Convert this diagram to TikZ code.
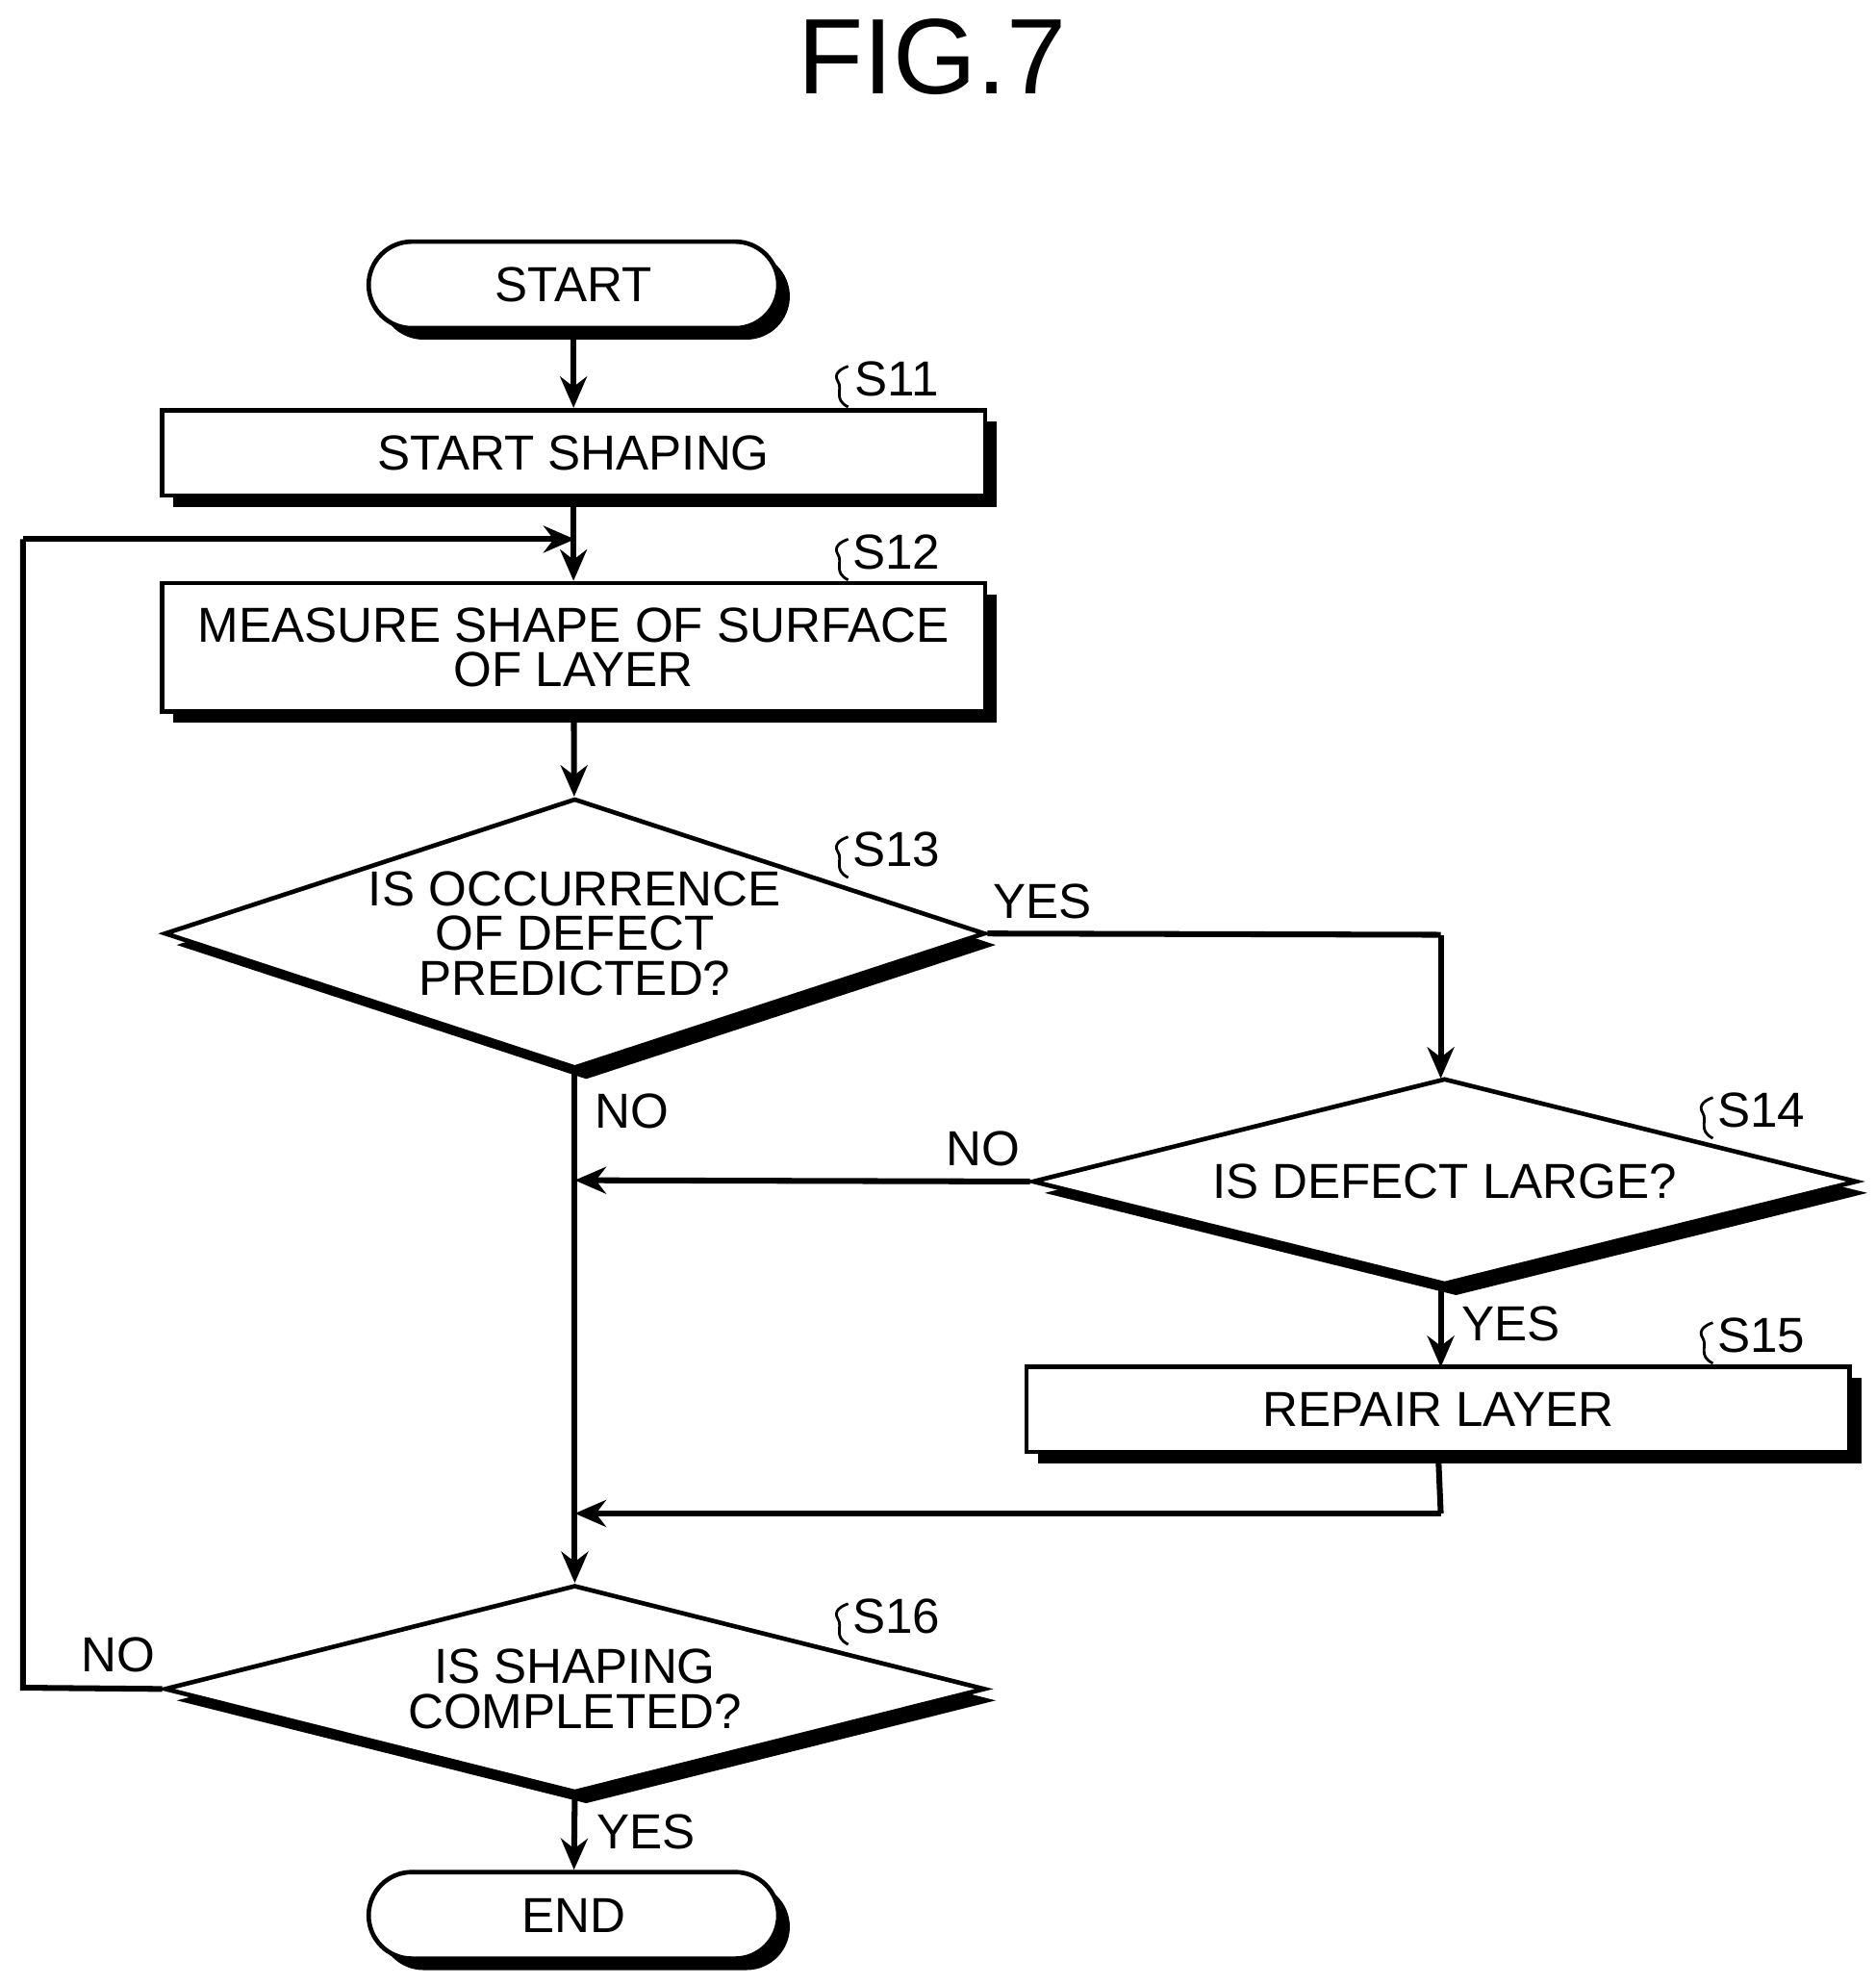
\documentclass[tikz,border=0pt]{standalone}
\usepackage{fontspec}
\setmainfont{Liberation Sans}
\usetikzlibrary{shapes.geometric,shadows,arrows.meta}
\begin{document}
\begin{tikzpicture}[x=0.01cm,y=-0.01cm,
  sh/.style={drop shadow={shadow xshift=0.09cm,shadow yshift=-0.09cm,opacity=1,fill=black}},
  box/.style={draw,line width=1pt,fill=white,sh,minimum width=6.47cm,inner sep=0pt,align=center,font=\fontsize{11}{11}\selectfont},
  term/.style={draw,line width=1pt,fill=white,sh,minimum width=3.22cm,minimum height=0.68cm,rounded corners=0.34cm,font=\fontsize{11}{11}\selectfont},
  dia/.style={diamond,draw,line width=1pt,fill=white,sh,aspect=3,inner sep=0pt,align=center,font=\fontsize{11}{11}\selectfont},
  ln/.style={line width=1.3pt},
  ar/.style={ln,-{Stealth[length=7pt,width=6pt]}},
  lab/.style={font=\fontsize{11}{11}\selectfont},
  sq/.style={line width=0.6pt}]
\useasboundingbox (0,0) rectangle (1475,1560);
\node[font=\fontsize{24}{24}\selectfont] (title) at (733,45) {FIG.7};
\node[term] (start) at (451,224) {START};
\node[box,minimum height=0.67cm] (s11) at (451,356) {START SHAPING};
\node[box,minimum height=1.01cm] (s12) at (451,509) {MEASURE SHAPE OF SURFACE\\[-1pt]OF LAYER};
\node[dia,minimum width=6.45cm,minimum height=2.12cm] (s13) at (452,734) {IS OCCURRENCE\\[-1pt]OF DEFECT\\[-1pt]PREDICTED?};
\node[dia,minimum width=6.48cm,minimum height=1.62cm] (s14) at (1136,929) {IS DEFECT LARGE?};
\node[box,minimum height=0.67cm] (s15) at (1131,1108) {REPAIR LAYER};
\node[dia,minimum width=6.45cm,minimum height=1.63cm] (s16) at (452,1328) {IS SHAPING\\[-1pt]COMPLETED?};
\node[term] (end) at (451,1506) {END};
\foreach \n/\x/\y in {S11/705/298,S12/705/434,S13/705/668,S14/1385/873,S15/1385/1050,S16/705/1271}{
  \node[lab] (l\n) at (\x,\y) {\n};
  \draw[sq] (\x-38,\y+22) .. controls (\x-50,\y+16) and (\x-42,\y+8) .. (\x-46,\y+2) .. controls (\x-50,\y-4) and (\x-44,\y-8) .. (\x-38,\y-10);
}
\coordinate (m1) at (452,928);
\coordinate (m2) at (452,1190);
\coordinate (c1) at (18,1327);
\coordinate (c2) at (18,424);
\coordinate (c3) at (452,424);
\coordinate (y1) at (1133,735);
\coordinate (r1) at (1133,1190);
\draw[ar] (start) -- (s11);
\draw[ar] (s11) -- (s12);
\draw[ar] (s12) -- (s13);
\draw[ln] (s13.east) -- (y1);
\draw[ar] (y1) -- (1133,848);
\draw[ar] (s14.west) -- (m1);
\draw[ar] (s13.south) -- (s16.north);
\draw[ar] (1133,1010) -- (1133,1075);
\draw[ln] (s15.south) -- (r1);
\draw[ar] (r1) -- (m2);
\draw[ln] (s16.west) -- (c1) -- (c2);
\draw[ar] (c2) -- (c3);
\draw[ar] (s16.south) -- (end);
\node[lab] (t1) at (820,709) {YES};
\node[lab] (t2) at (497,874) {NO};
\node[lab] (t3) at (773,903) {NO};
\node[lab] (t4) at (1188,1041) {YES};
\node[lab] (t5) at (93,1301) {NO};
\node[lab] (t6) at (508,1440) {YES};
\end{tikzpicture}
\end{document}
